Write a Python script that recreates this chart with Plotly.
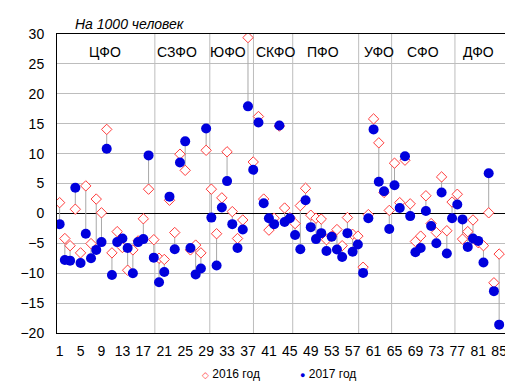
import plotly.graph_objects as go

region_no = list(range(1, 86))

net_2016 = [1.8, -4.2, -5.4, 0.7, -6.6, 4.6, -5.05, 2.4, 0.1, 14.05,
            -6.6, -3.05, -5.7, -9.5, -6.1, -4.6, -0.9, 4.05, -4.4, -7.5,
            -7.7, 2.2, -3.2, 9.9, 7.2, -6.1, -5.3, -6.6, 10.55, 4.05,
            -3.4, 2.6, 10.3, 0.3, -4.2, -1.1, 29.4, 8.6, 16.2, 2.4,
            -2.8, -0.8, 14.6, 0.9, -0.7, -1.7, 1.3, 4.2, -0.3, -0.8,
            -0.95, -4.4, -3.8, -2.7, -5.4, -0.7, -3.5, -3.8, -9.0, -0.2,
            15.8, 11.8, 3.5, 0.5, 8.4, 1.8, 8.9, 1.6, -4.7, -3.8,
            2.95, -1.7, -3.2, 6.1, -2.9, 1.9, 3.2, -4.3, -3.05, -1.1,
            -4.9, -5.4, 0.1, -11.6, -6.8]

net_2017 = [-1.8, -7.8, -7.9, 4.3, -8.3, -3.4, -7.5, -6.1, -4.8, 10.8,
            -10.3, -4.8, -4.2, -5.8, -10.0, -4.8, -4.3, 9.7, -7.4, -11.5,
            -9.8, 2.8, -6.0, 8.5, 12.05, -5.8, -10.2, -9.2, 14.2, -0.7,
            -8.7, 1.0, 5.4, -1.8, -5.8, -2.7, 17.9, 7.3, 15.2, 1.7,
            -0.8, -1.8, 14.7, -1.45, -0.8, -3.6, -6.0, 2.2, -2.3, -4.3,
            -3.3, -6.3, -3.9, -6.05, -7.3, -3.3, -6.4, -5.2, -9.95, -0.8,
            14.05, 5.3, 3.7, -2.6, 4.7, 0.9, 9.55, -0.45, -6.5, -5.8,
            0.4, -2.1, -5.0, 3.5, -6.7, -0.8, 1.5, -1.0, -5.6, -4.2,
            -4.6, -8.2, 6.7, -13.0, -18.6]

districts = ["ЦФО", "СЗФО", "ЮФО", "СКФО", "ПФО", "УФО", "СФО", "ДФО"]
district_label_x = [9.6, 23.5, 33.1, 42.2, 51.3, 62.0, 70.4, 81.0]
district_bounds = [19.2, 29.7, 38.05, 45.55, 58.15, 64.45, 76.55]

x_ticks = list(range(1, 86, 4))
y_ticks = list(range(-20, 31, 5))

FONT = "Liberation Sans, Arial, sans-serif"
RED = "#ff3c3c"
BLUE = "#0000dd"
GRAY = "#bdbdbd"

# connecting lines between 2016 and 2017 values
lx, ly = [], []
for i, a, b in zip(region_no, net_2016, net_2017):
    lx += [i, i, None]
    ly += [a, b, None]

fig = go.Figure()
fig.add_trace(go.Scatter(x=lx, y=ly, mode="lines",
                         line=dict(color="#a8a8a8", width=1),
                         hoverinfo="skip", showlegend=False))
fig.add_trace(go.Scatter(x=region_no, y=net_2016, mode="markers", name="2016 год",
                         marker=dict(symbol="diamond", size=8, color="white",
                                     line=dict(color=RED, width=1)),
                         showlegend=False))
fig.add_trace(go.Scatter(x=region_no, y=net_2017, mode="markers", name="2017 год",
                         marker=dict(symbol="circle", size=10, color=BLUE,
                                     line=dict(width=0)),
                         showlegend=False))

shapes = []
for xb in district_bounds:
    shapes.append(dict(type="line", xref="x", yref="paper", x0=xb, x1=xb, y0=0, y1=1,
                       line=dict(color=GRAY, width=1), layer="below"))

annotations = []
for name, xp in zip(districts, district_label_x):
    annotations.append(dict(x=xp, y=27.0, xref="x", yref="y", text=name,
                            showarrow=False, font=dict(size=14, color="black", family=FONT),
                            xanchor="center", yanchor="middle"))

annotations.append(dict(x=0.035, y=1, xref="paper", yref="paper",
                        text="<i>На 1000 человек</i>", showarrow=False,
                        xanchor="left", yanchor="bottom", yshift=0,
                        font=dict(size=14, color="black", family=FONT)))

annotations.append(dict(x=0.318, y=-0.137, xref="paper", yref="paper",
                        text=f"<span style='color:{RED};font-size:9px'>◇</span> 2016 год",
                        showarrow=False, xanchor="left", yanchor="middle",
                        font=dict(size=12, color="black", family=FONT)))
annotations.append(dict(x=0.535, y=-0.137, xref="paper", yref="paper",
                        text=f"<span style='color:{BLUE};font-size:9px'>●</span> 2017 год",
                        showarrow=False, xanchor="left", yanchor="middle",
                        font=dict(size=12, color="black", family=FONT)))

fig.update_layout(
    width=513, height=390,
    margin=dict(l=45, r=14, t=26, b=65),
    paper_bgcolor="white", plot_bgcolor="white",
    font=dict(family=FONT, size=12, color="black"),
    shapes=shapes, annotations=annotations,
    showlegend=False,
    xaxis=dict(range=[0.5, 86.5], tickvals=x_ticks, showgrid=False, zeroline=False,
               showline=True, mirror=True, linecolor="black", linewidth=1,
               ticks="", ticklabelstandoff=5, tickfont=dict(size=14)),
    yaxis=dict(range=[-20, 30], tickvals=y_ticks, showgrid=True, gridcolor=GRAY,
               gridwidth=1, zeroline=True, zerolinecolor="black", zerolinewidth=1,
               showline=True, mirror=True, linecolor="black", linewidth=1,
               ticks="", ticklabelstandoff=9, tickfont=dict(size=14)),
)

fig.write_html("out.html")
